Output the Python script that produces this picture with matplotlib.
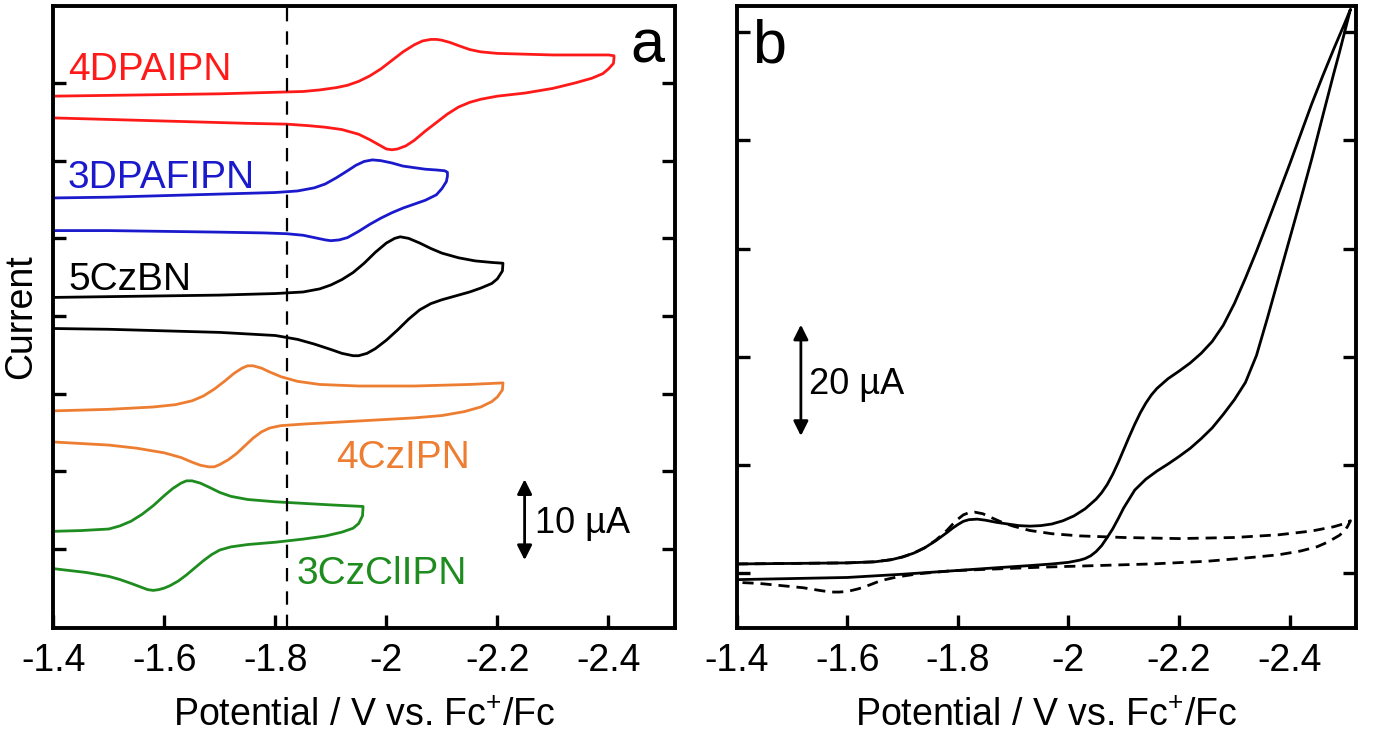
import matplotlib
matplotlib.use("Agg")
import matplotlib.pyplot as plt

plt.rcParams['font.family'] = ['Liberation Sans', 'DejaVu Sans']
plt.rcParams['mathtext.fontset'] = 'custom'
plt.rcParams['mathtext.rm'] = 'Liberation Sans'
plt.rcParams['mathtext.it'] = 'Liberation Sans:italic'

# ---------------- Panel a data (V vs. Fc+/Fc, offset current in uA) ----------------
red_fwd_v = [-1.40, -1.50, -1.60, -1.70, -1.80, -1.85, -1.88, -1.91, -1.93, -1.95, -1.97, -1.99, -2.01, -2.03, -2.05, -2.065, -2.08, -2.09, -2.10, -2.115, -2.13, -2.15, -2.17, -2.20, -2.25, -2.30, -2.35, -2.40, -2.41]
red_fwd_i = [58.3, 58.4, 58.5, 58.6, 58.8, 58.9, 59.1, 59.4, 59.7, 60.2, 60.9, 61.8, 62.9, 64.0, 64.9, 65.4, 65.6, 65.6, 65.5, 65.2, 64.8, 64.3, 64.0, 63.8, 63.7, 63.6, 63.6, 63.6, 63.5]
red_rev_v = [-2.41, -2.409, -2.40, -2.39, -2.37, -2.34, -2.30, -2.25, -2.20, -2.17, -2.15, -2.13, -2.11, -2.09, -2.07, -2.05, -2.035, -2.02, -2.01, -2.00, -1.99, -1.97, -1.95, -1.92, -1.89, -1.86, -1.82, -1.75, -1.65, -1.55, -1.40]
red_rev_i = [63.2, 62.5, 61.8, 61.2, 60.6, 60.0, 59.3, 58.7, 58.3, 57.9, 57.5, 56.9, 56.0, 54.9, 53.8, 52.6, 51.9, 51.5, 51.4, 51.5, 51.9, 52.7, 53.4, 54.0, 54.3, 54.5, 54.7, 54.8, 55.0, 55.2, 55.5]

blue_fwd_v = [-1.40, -1.50, -1.60, -1.70, -1.80, -1.84, -1.87, -1.89, -1.91, -1.93, -1.945, -1.96, -1.975, -1.99, -2.01, -2.03, -2.05, -2.07, -2.09, -2.105, -2.11]
blue_fwd_i = [45.2, 45.3, 45.5, 45.7, 45.9, 46.1, 46.5, 47.0, 47.8, 48.7, 49.4, 49.9, 50.1, 50.0, 49.7, 49.3, 49.1, 48.9, 48.8, 48.7, 48.5]
blue_rev_v = [-2.11, -2.108, -2.10, -2.09, -2.07, -2.05, -2.03, -2.01, -1.99, -1.97, -1.95, -1.93, -1.915, -1.90, -1.89, -1.87, -1.85, -1.82, -1.78, -1.70, -1.60, -1.50, -1.40]
blue_rev_i = [48.0, 47.3, 46.4, 45.6, 44.9, 44.4, 43.9, 43.3, 42.6, 41.8, 40.9, 40.1, 39.8, 39.7, 39.8, 40.1, 40.4, 40.6, 40.7, 40.8, 40.9, 41.0, 41.0]

black_fwd_v = [-1.40, -1.50, -1.60, -1.70, -1.80, -1.85, -1.88, -1.90, -1.92, -1.94, -1.96, -1.98, -2.00, -2.015, -2.025, -2.04, -2.06, -2.08, -2.10, -2.13, -2.16, -2.19, -2.21]
black_fwd_i = [32.4, 32.5, 32.6, 32.7, 32.9, 33.1, 33.5, 34.0, 34.7, 35.6, 36.8, 38.2, 39.4, 40.0, 40.2, 40.0, 39.4, 38.7, 38.1, 37.5, 37.1, 36.9, 36.8]
black_rev_v = [-2.21, -2.209, -2.20, -2.19, -2.17, -2.15, -2.12, -2.10, -2.08, -2.06, -2.04, -2.02, -2.00, -1.98, -1.965, -1.95, -1.94, -1.92, -1.90, -1.87, -1.84, -1.80, -1.75, -1.70, -1.60, -1.50, -1.40]
black_rev_i = [36.8, 35.8, 34.8, 34.2, 33.6, 33.1, 32.5, 32.1, 31.6, 30.8, 29.6, 28.2, 26.9, 25.8, 25.2, 24.9, 24.9, 25.2, 25.7, 26.4, 27.0, 27.5, 27.7, 27.9, 28.1, 28.3, 28.4]

orange_fwd_v = [-1.40, -1.50, -1.58, -1.62, -1.65, -1.67, -1.69, -1.71, -1.725, -1.74, -1.75, -1.76, -1.775, -1.79, -1.81, -1.84, -1.88, -1.95, -2.05, -2.15, -2.21]
orange_fwd_i = [17.8, 18.0, 18.3, 18.6, 19.1, 19.7, 20.6, 21.7, 22.6, 23.3, 23.6, 23.6, 23.3, 22.8, 22.2, 21.6, 21.2, 21.0, 21.0, 21.2, 21.4]
orange_rev_v = [-2.21, -2.209, -2.20, -2.19, -2.17, -2.14, -2.10, -2.05, -2.00, -1.95, -1.90, -1.85, -1.81, -1.79, -1.775, -1.76, -1.745, -1.73, -1.715, -1.70, -1.69, -1.68, -1.665, -1.65, -1.63, -1.60, -1.55, -1.50, -1.40]
orange_rev_i = [21.4, 20.5, 19.6, 19.0, 18.3, 17.7, 17.2, 16.9, 16.7, 16.5, 16.3, 16.1, 15.9, 15.6, 15.1, 14.3, 13.3, 12.3, 11.5, 10.9, 10.6, 10.6, 10.8, 11.2, 11.8, 12.4, 13.0, 13.4, 13.8]

green_fwd_v = [-1.40, -1.45, -1.50, -1.52, -1.54, -1.56, -1.58, -1.60, -1.615, -1.63, -1.64, -1.65, -1.665, -1.68, -1.70, -1.72, -1.75, -1.80, -1.85, -1.90, -1.958]
green_fwd_i = [2.3, 2.4, 2.6, 3.0, 3.6, 4.5, 5.6, 6.9, 7.8, 8.5, 8.8, 8.8, 8.5, 8.0, 7.3, 6.8, 6.4, 6.1, 5.9, 5.7, 5.5]
green_rev_v = [-1.958, -1.957, -1.95, -1.94, -1.92, -1.89, -1.85, -1.80, -1.75, -1.72, -1.70, -1.685, -1.67, -1.655, -1.64, -1.625, -1.61, -1.60, -1.59, -1.58, -1.57, -1.555, -1.54, -1.52, -1.50, -1.46, -1.40]
green_rev_i = [5.5, 4.3, 3.3, 2.7, 2.2, 1.7, 1.3, 0.9, 0.6, 0.3, -0.1, -0.7, -1.5, -2.4, -3.3, -4.1, -4.7, -5.0, -5.2, -5.3, -5.2, -4.8, -4.4, -3.9, -3.5, -3.0, -2.5]

series_a = [
    ("4DPAIPN", "#ff1a1a", red_fwd_v, red_fwd_i, red_rev_v, red_rev_i, -1.4265, 60.4),
    ("3DPAFIPN", "#1a1acc", blue_fwd_v, blue_fwd_i, blue_rev_v, blue_rev_i, -1.4265, 46.5),
    ("5CzBN", "#000000", black_fwd_v, black_fwd_i, black_rev_v, black_rev_i, -1.4265, 33.4),
    ("4CzIPN", "#ed7d31", orange_fwd_v, orange_fwd_i, orange_rev_v, orange_rev_i, -1.909, 10.4),
    ("3CzClIPN", "#1e8c1e", green_fwd_v, green_fwd_i, green_rev_v, green_rev_i, -1.838, -4.5),
]

# ---------------- Panel b data ----------------
solid_fwd_v = [-1.40, -1.50, -1.60, -1.65, -1.68, -1.70, -1.72, -1.74, -1.76, -1.78, -1.79, -1.80, -1.81, -1.82, -1.835, -1.85, -1.87, -1.89, -1.91, -1.93, -1.95, -1.97, -1.99, -2.01, -2.03, -2.05, -2.06, -2.07, -2.08, -2.09, -2.10, -2.11, -2.12, -2.13, -2.14, -2.15, -2.16, -2.18, -2.20, -2.22, -2.24, -2.26, -2.28, -2.30, -2.32, -2.34, -2.36, -2.38, -2.40, -2.42, -2.44, -2.46, -2.48, -2.50, -2.51]
solid_fwd_i = [1.6, 1.7, 1.8, 2.0, 2.4, 2.9, 3.6, 4.6, 5.9, 7.4, 8.2, 8.9, 9.5, 9.8, 9.9, 9.7, 9.3, 9.0, 8.7, 8.6, 8.7, 9.0, 9.6, 10.5, 11.8, 13.6, 14.8, 16.3, 18.2, 20.4, 22.8, 25.2, 27.5, 29.6, 31.4, 32.9, 34.1, 35.9, 37.3, 38.8, 40.6, 42.8, 45.8, 49.8, 54.5, 59.5, 64.8, 70.2, 75.6, 81.2, 86.8, 92.0, 97.0, 101.8, 104.3]
solid_rev_v = [-2.51, -2.50, -2.49, -2.48, -2.46, -2.44, -2.42, -2.40, -2.38, -2.36, -2.34, -2.32, -2.30, -2.28, -2.26, -2.24, -2.22, -2.20, -2.18, -2.16, -2.14, -2.12, -2.10, -2.09, -2.08, -2.07, -2.06, -2.05, -2.04, -2.03, -2.02, -2.00, -1.97, -1.93, -1.87, -1.80, -1.70, -1.60, -1.50, -1.40]
solid_rev_i = [104.3, 100.3, 96.3, 92.5, 84.6, 76.6, 69.1, 61.8, 54.5, 47.2, 40.2, 35.2, 32.0, 29.3, 26.8, 24.8, 23.0, 21.5, 20.1, 18.8, 17.3, 15.3, 12.0, 10.0, 8.1, 6.5, 5.0, 3.9, 3.1, 2.6, 2.3, 1.9, 1.6, 1.3, 0.9, 0.4, -0.3, -0.9, -1.1, -1.3]

dash_fwd_v = [-1.40, -1.50, -1.60, -1.65, -1.68, -1.70, -1.72, -1.74, -1.76, -1.78, -1.79, -1.80, -1.81, -1.82, -1.83, -1.845, -1.86, -1.88, -1.90, -1.93, -1.97, -2.02, -2.10, -2.20, -2.30, -2.38, -2.44, -2.48, -2.50, -2.51]
dash_fwd_i = [1.6, 1.7, 1.8, 2.0, 2.4, 2.9, 3.6, 4.6, 6.0, 7.8, 8.9, 9.9, 10.7, 11.1, 11.2, 10.9, 10.2, 9.3, 8.6, 7.8, 7.2, 6.8, 6.5, 6.3, 6.5, 7.0, 7.7, 8.5, 9.1, 9.6]
dash_rev_v = [-2.51, -2.505, -2.50, -2.49, -2.47, -2.45, -2.42, -2.38, -2.32, -2.25, -2.15, -2.05, -1.95, -1.85, -1.79, -1.73, -1.69, -1.66, -1.64, -1.62, -1.60, -1.585, -1.57, -1.55, -1.52, -1.48, -1.44, -1.40]
dash_rev_i = [9.6, 8.6, 7.8, 6.9, 5.7, 4.8, 4.0, 3.3, 2.7, 2.1, 1.6, 1.3, 1.0, 0.6, 0.35, -0.2, -0.8, -1.5, -2.3, -3.0, -3.5, -3.6, -3.6, -3.3, -2.8, -2.4, -2.0, -1.8]

xticks = [-1.4, -1.6, -1.8, -2.0, -2.2, -2.4]
xticklabels = ["-1.4", "-1.6", "-1.8", "-2", "-2.2", "-2.4"]
yticks_a = [0, 10, 20, 30, 40, 50, 60]
yticks_b = [0, 20, 40, 60, 80, 100]
dashed_line_v = -1.821

FS_TICK = 27
FS_LABEL = 27
FS_NAME = 28

fig = plt.figure(figsize=(13.74, 7.41), dpi=100)
ax_a = fig.add_axes([0.0388, 0.1529, 0.4525, 0.8390])
ax_b = fig.add_axes([0.5362, 0.1529, 0.4507, 0.8390])

for ax in (ax_a, ax_b):
    ax.set_xlim(-1.4, -2.52)
    ax.set_xticks(xticks)
    ax.set_xticklabels(xticklabels)
    ax.tick_params(axis='x', direction='in', length=9.5, width=2.4, labelsize=FS_TICK, pad=11, top=False)
    ax.tick_params(axis='y', direction='in', length=9.5, width=2.4, left=True, right=True, labelleft=False)
    for s in ax.spines.values():
        s.set_linewidth(2.8)
    ax.set_xlabel("Potential / V vs. Fc$^{+}$/Fc", fontsize=FS_LABEL, labelpad=14)

# Panel a
ax_a.set_ylim(-10.1, 69.9)
ax_a.set_yticks(yticks_a)
for name, col, fv, fi, rv, ri, tx, ty in series_a:
    ax_a.plot(fv + rv, fi + ri, color=col, lw=2.0, solid_joinstyle='round')
    ax_a.text(tx, ty, name, color=col, fontsize=FS_NAME, ha='left', va='baseline')
ax_a.axvline(dashed_line_v, color='black', lw=1.6, dashes=(6, 4.5))
ax_a.annotate("", xy=(-2.249, -1.4), xytext=(-2.249, 9.0),
              arrowprops=dict(arrowstyle='<|-|>', color='black', lw=2.0, mutation_scale=22,
                              shrinkA=0, shrinkB=0))
ax_a.text(-2.268, 2.1, "10 µA", fontsize=26, ha='left', va='baseline')
ax_a.text(-2.471, 62.6, "a", fontsize=44, ha='center', va='baseline')
ax_a.set_ylabel("Current", fontsize=FS_LABEL, labelpad=10)

# Panel b
ax_b.set_ylim(-10.2, 104.9)
ax_b.set_yticks(yticks_b)
ax_b.plot(solid_fwd_v + solid_rev_v, solid_fwd_i + solid_rev_i, color='black', lw=2.0, solid_joinstyle='round')
ax_b.plot(dash_fwd_v + dash_rev_v, dash_fwd_i + dash_rev_i, color='black', lw=2.0, dashes=(4, 2.5))
ax_b.annotate("", xy=(-1.516, 25.3), xytext=(-1.516, 45.9),
              arrowprops=dict(arrowstyle='<|-|>', color='black', lw=2.0, mutation_scale=22,
                              shrinkA=0, shrinkB=0))
ax_b.text(-1.531, 33.0, "20 µA", fontsize=26, ha='left', va='baseline')
ax_b.text(-1.458, 94.4, "b", fontsize=44, ha='center', va='baseline')

fig.savefig("out.png", dpi=100)
